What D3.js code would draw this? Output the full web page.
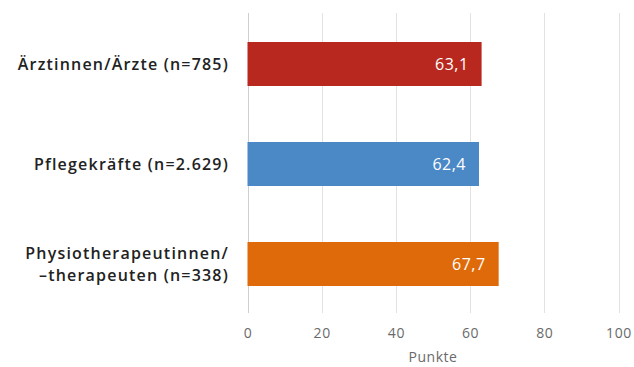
<!DOCTYPE html>
<html>
<head>
<meta charset="utf-8">
<script src="https://cdn.jsdelivr.net/npm/d3@7"></script>
<style>
  html, body { margin: 0; padding: 0; background: #fff; }
  svg { display: block; }
</style>
</head>
<body>
<svg id="chart" width="634" height="367"></svg>
<script>
// Group labels (each line of a label is a separate entry)
const categories = [
  ["Ärztinnen/Ärzte (n=785)"],
  ["Pflegekräfte (n=2.629)"],
  ["Physiotherapeutinnen/", "–therapeuten (n=338)"]
];
const values = [63.1, 62.4, 67.7];
const barColors = ["#B8281E", "#4A88C6", "#DF6A0A"];
const tickValues = [0, 20, 40, 60, 80, 100];
const axisTitle = "Punkte";

const svg = d3.select("#chart");
const margin = { left: 247.5, top: 14 };

const x = d3.scaleLinear().domain([0, 100]).range([margin.left, 618.5]);
const y = d3.scaleBand()
  .domain(d3.range(categories.length))
  .range([margin.top, margin.top + 300])
  .paddingInner(0.56)
  .paddingOuter(0.28);

const fmt = v => d3.format(".1f")(v).replace(".", ",");

// vertical gridlines
svg.append("g")
  .selectAll("line")
  .data(tickValues)
  .join("line")
  .attr("x1", d => Math.round(x(d)) + 0.5)
  .attr("x2", d => Math.round(x(d)) + 0.5)
  .attr("y1", 13)
  .attr("y2", 313)
  .attr("stroke", d => d === 0 ? "#cfcfcf" : "#e2e2e2")
  .attr("stroke-width", 1);

// x axis tick labels
const axis = d3.axisBottom(x).tickValues(tickValues).tickSize(0).tickPadding(0);
const gx = svg.append("g").attr("transform", "translate(0,338)").call(axis);
gx.select(".domain").remove();
gx.selectAll("text")
  .attr("dy", 0)
  .attr("fill", "#6a6a6a")
  .style("font-family", "'Open Sans', sans-serif")
  .style("font-size", "14px")
  .style("letter-spacing", "0.6px");

svg.append("text")
  .attr("x", x(50))
  .attr("y", 362)
  .attr("text-anchor", "middle")
  .attr("fill", "#6a6a6a")
  .style("font-family", "'Open Sans', sans-serif")
  .style("font-size", "14px")
  .style("letter-spacing", "0.5px")
  .text(axisTitle);

// bars
svg.append("g")
  .selectAll("rect")
  .data(values)
  .join("rect")
  .attr("x", x(0))
  .attr("y", (d, i) => y(i))
  .attr("width", d => x(d) - x(0))
  .attr("height", y.bandwidth())
  .attr("fill", (d, i) => barColors[i]);

// value labels inside bar ends
svg.append("g")
  .selectAll("text")
  .data(values)
  .join("text")
  .attr("x", d => x(d) - 13)
  .attr("y", (d, i) => y(i) + y.bandwidth() / 2)
  .attr("dy", "0.36em")
  .attr("text-anchor", "end")
  .attr("fill", "#fff")
  .style("font-family", "'Open Sans', sans-serif")
  .style("font-size", "16px")
  .style("letter-spacing", "0.5px")
  .text(fmt);

// category labels
const lab = svg.append("g")
  .selectAll("text")
  .data(categories)
  .join("text")
  .attr("text-anchor", "end")
  .attr("fill", "#222")
  .style("font-family", "'Open Sans', sans-serif")
  .style("font-size", "16px")
  .style("font-weight", 600)
  .style("letter-spacing", "1.2px")
  .attr("transform", (d, i) => `translate(229,${y(i) + y.bandwidth() / 2})`);

lab.selectAll("tspan")
  .data(d => d.map((t, j) => ({ t, j, n: d.length })))
  .join("tspan")
  .attr("x", 0)
  .attr("y", d => (d.j - (d.n - 1) / 2) * 22)
  .attr("dy", "0.36em")
  .text(d => d.t);
</script>
</body>
</html>
